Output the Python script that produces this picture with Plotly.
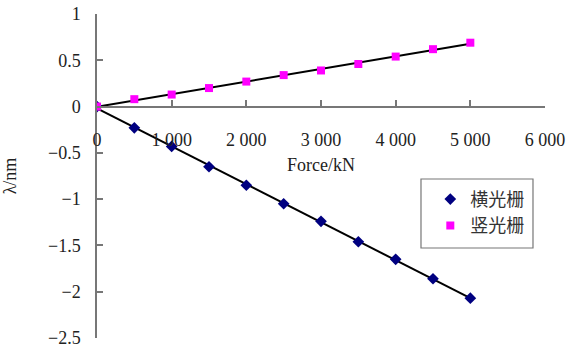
import numpy as np
import plotly.graph_objects as go

force = [0, 500, 1000, 1500, 2000, 2500, 3000, 3500, 4000, 4500, 5000]
heng = [0, -0.23, -0.43, -0.65, -0.85, -1.05, -1.24, -1.46, -1.65, -1.86, -2.07]
shu = [0, 0.08, 0.13, 0.20, 0.27, 0.34, 0.39, 0.46, 0.54, 0.62, 0.69]
names = ["横光栅", "竖光栅"]
x_tickvals = [0, 1000, 2000, 3000, 4000, 5000, 6000]
x_ticktext = ["0", "1 000", "2 000", "3 000", "4 000", "5 000", "6 000"]
y_tickvals = [-2.5, -2, -1.5, -1, -0.5, 0, 0.5, 1]

serif = "Liberation Serif, Times New Roman, serif"
cjk = "Noto Sans CJK SC, sans-serif"

fig = go.Figure()
xs = np.array([force[0], force[-1]], dtype=float)
for ys in (heng, shu):
    k, b = np.polyfit(force, ys, 1)
    fig.add_trace(go.Scatter(x=xs, y=k * xs + b, mode="lines",
                             line=dict(color="black", width=2),
                             showlegend=False, hoverinfo="skip"))

fig.add_trace(go.Scatter(x=force, y=heng, mode="markers", name=names[0],
                         marker=dict(symbol="diamond", size=9, color="#000080")))
fig.add_trace(go.Scatter(x=force, y=shu, mode="markers", name=names[1],
                         marker=dict(symbol="square", size=8, color="#FF00FF")))

# legend frame
fig.add_shape(type="rect", xref="paper", yref="paper",
              x0=0.7232, x1=0.9732, y0=0.2778, y1=0.4907,
              line=dict(color="#777", width=1.2), fillcolor="white", layer="below")

fig.update_layout(
    width=571, height=353,
    margin=dict(l=97, r=26, t=14, b=15),
    paper_bgcolor="white", plot_bgcolor="white",
    font=dict(family=serif, size=18, color="#222"),
    legend=dict(x=0.744, y=0.485, xanchor="left", yanchor="top",
                borderwidth=0, bgcolor="rgba(0,0,0,0)",
                font=dict(family=cjk, size=18, color="#333"),
                tracegroupgap=0, itemwidth=30),
    showlegend=True,
)
fig.update_xaxes(range=[0, 6000], anchor="free", position=2.5 / 3.5,
                 automargin=False, ticklabeloverflow="allow",
                 showline=True, linecolor="#777", linewidth=1.5,
                 ticks="inside", ticklen=6, tickcolor="#777", tickwidth=1.5,
                 tickvals=x_tickvals, ticktext=x_ticktext,
                 ticklabelstandoff=17,
                 showgrid=False, zeroline=False,
                 title=dict(text="Force/kN", standoff=8,
                            font=dict(family=serif, size=18)))
fig.update_yaxes(range=[-2.5, 1], automargin=False, ticklabeloverflow="allow",
                 showline=True, linecolor="#777", linewidth=1.5,
                 ticks="inside", ticklen=6, tickcolor="#777", tickwidth=1.5,
                 tickvals=y_tickvals, ticklabelstandoff=11,
                 showgrid=False, zeroline=False,
                 title=dict(text="λ/nm", standoff=40,
                            font=dict(family=serif, size=18)))

fig.write_html("out.html",
               config={"displayModeBar": False},
               post_script="document.body.style.margin='0';"
                           "document.body.style.overflow='hidden';")
